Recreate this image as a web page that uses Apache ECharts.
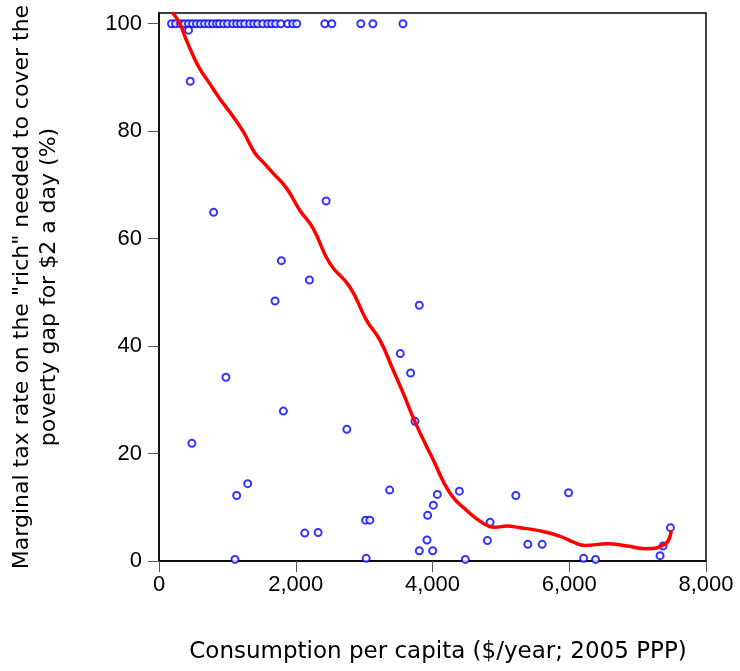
<!DOCTYPE html>
<html>
<head>
<meta charset="utf-8">
<script src="https://cdn.jsdelivr.net/npm/echarts@6/dist/echarts.min.js"></script>
<style>
  html, body { margin: 0; padding: 0; background: #fff; }
  #main { width: 740px; height: 671px; }
</style>
</head>
<body>
<div id="main"></div>
<script>
// countries: consumption per capita vs marginal tax rate
const pointX = [
  183, 242, 315, 374, 432, 491, 549, 608, 667, 725, 784, 843, 886, 945, 1004,
  1077, 1136, 1194, 1253, 1326, 1385, 1443, 1516, 1590, 1648, 1707, 1780, 1883,
  1956, 2015, 2425, 2527, 2952, 3128, 3568,
  432, 457, 799, 2444, 1790, 2200, 1697, 3807, 3529, 3680, 979, 1819, 3744,
  2747, 481, 1297, 1136, 3373, 4071, 4012, 3929, 3021, 3084, 2132, 2327, 3919,
  3807, 4003, 1111, 3030, 4393, 5219, 5990, 4842, 4803, 5394, 5604, 4481, 6210,
  6385, 7480, 7372, 7328,
];
const pointY = [
  100, 100, 100, 100, 100, 100, 100, 100, 100, 100, 100, 100, 100, 100, 100,
  100, 100, 100, 100, 100, 100, 100, 100, 100, 100, 100, 100, 100,
  100, 100, 100, 100, 100, 100, 100,
  98.8, 89.3, 64.9, 67.0, 55.9, 52.3, 48.4, 47.6, 38.6, 35.0, 34.2, 27.9, 26.0,
  24.5, 21.9, 14.4, 12.2, 13.2, 12.4, 10.4, 8.5, 7.6, 7.6, 5.2, 5.3, 3.9,
  1.9, 1.9, 0.3, 0.5, 13.0, 12.2, 12.7, 7.2, 3.8, 3.1, 3.1, 0.3, 0.5,
  0.3, 6.2, 2.8, 1.0,
];

// smoothed fit (red line)
const fitX = [
  195, 300, 399, 495, 593, 740, 886, 1033, 1228, 1400, 1540, 1667, 1864, 2059,
  2254, 2498, 2791, 3036, 3231, 3426, 3573, 3744, 4012, 4257, 4501, 4745, 4916,
  5087, 5282, 5575, 5868, 6063, 6234, 6552, 6845, 7114, 7406, 7490,
];
const fitY = [
  102.1, 100.1, 97.0, 94.2, 91.7, 88.9, 86.1, 83.6, 80.0, 76.0, 74.0, 72.2, 69.4, 65.3,
  61.9, 55.4, 51.0, 44.8, 41.1, 35.5, 31.2, 25.9, 18.8, 12.6, 9.4, 7.0, 6.3,
  6.5, 6.2, 5.6, 4.6, 3.5, 2.9, 3.2, 2.8, 2.3, 3.2, 5.8,
];

const xTicks = [0, 2000, 4000, 6000, 8000];
const yTicks = [0, 20, 40, 60, 80, 100];

const myChart = echarts.init(document.getElementById('main'));

const points = pointX.map((x, i) => [x, pointY[i]]);
const fit = fitX.map((x, i) => [x, fitY[i]]);

const option = {
  animation: false,
  grid: {
    left: 159,
    right: 34,
    top: 13,
    bottom: 110,
    show: true,
    borderColor: '#000',
    borderWidth: 1.5,
  },
  xAxis: {
    type: 'value',
    min: 0,
    max: 8000,
    interval: 2000,
    splitLine: { show: false },
    axisLine: { lineStyle: { color: '#000', width: 1.5 } },
    axisTick: { length: 11, lineStyle: { color: '#555' }, customValues: xTicks },
    axisLabel: {
      margin: 13,
      fontFamily: 'Liberation Sans',
      fontSize: 22,
      color: '#000',
      customValues: xTicks,
      formatter: (v) => v.toLocaleString('en-US'),
    },
    name: 'Consumption per capita ($/year; 2005 PPP)',
    nameLocation: 'middle',
    nameGap: 80,
    nameTextStyle: {
      fontFamily: 'DejaVu Sans',
      fontSize: 23,
      color: '#000',
      padding: [0, 0, 0, 11],
    },
  },
  yAxis: {
    type: 'value',
    min: 0,
    max: 102,
    splitLine: { show: false },
    axisLine: { lineStyle: { color: '#000', width: 1.5 } },
    axisTick: { length: 11, lineStyle: { color: '#555' }, customValues: yTicks },
    axisLabel: {
      margin: 17,
      fontFamily: 'Liberation Sans',
      fontSize: 22,
      color: '#000',
      customValues: yTicks,
    },
    name: 'Marginal tax rate on the "rich" needed to cover the\npoverty gap for $2 a day (%)',
    nameLocation: 'middle',
    nameRotate: 90,
    nameGap: 96,
    nameTextStyle: {
      fontFamily: 'DejaVu Sans',
      fontSize: 22,
      lineHeight: 27,
      color: '#000',
      align: 'center',
    },
  },
  series: [
    {
      type: 'scatter',
      data: points,
      symbol: 'emptyCircle',
      symbolSize: 7,
      itemStyle: { color: '#0000ff', borderColor: '#0000ff', borderWidth: 1 },
      z: 2,
    },
    {
      type: 'line',
      data: fit,
      smooth: true,
      showSymbol: false,
      clip: true,
      lineStyle: { color: '#ff0000', width: 3.5 },
      z: 3,
    },
  ],
};

myChart.setOption(option);
</script>
</body>
</html>
